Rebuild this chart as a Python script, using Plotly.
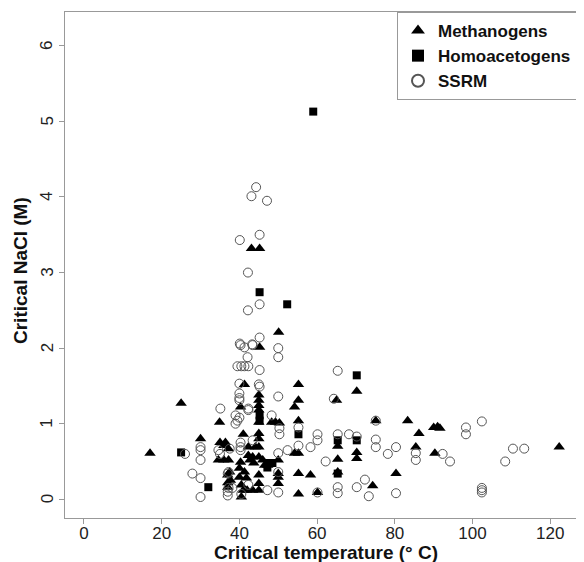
import plotly.graph_objects as go

# Methanogens (triangles)
meth_x = [17, 25, 30, 34.9, 35, 36.4, 36, 34.6, 36, 37.2, 37.2, 37.5, 37.7, 37, 37, 37,
          41.3, 40.3, 41, 40, 41.3, 40, 41.8, 40.5, 41, 40.5,
          42.3, 43.4, 42.7, 40.3, 45, 46, 43.7, 46.5, 47.3,
          42.3, 44.1, 45, 42, 43.4, 45,
          43.1, 45.2, 45.2, 50.1,
          45, 45, 45, 45, 45, 45, 45, 45, 45,
          48.3, 49.3, 50.3, 50, 50, 50, 50,
          55.2, 55.2, 54.2, 55.2, 54.2, 55.2, 55.2, 58.3, 55.2, 60.1,
          65, 65.3, 65.3, 65.3, 70.2, 70.2, 70.2,
          75.1, 74.3, 80.3, 83.3, 86.2, 85.4, 90, 91, 91.6, 90.3, 122.3]
meth_y = [0.61, 1.27, 0.80, 1.02, 0.75, 0.75, 0.71, 0.52, 0.52, 0.52, 0.67, 0.36, 0.25, 0.32, 0.22, 0.16,
          1.52, 1.22, 0.86, 0.41, 0.36, 0.29, 0.28, 0.19, 0.12, 0.03,
          0.58, 0.56, 0.52, 0.49, 0.56, 0.52, 0.48, 0.45, 0.45,
          0.69, 0.69, 0.69, 0.12, 0.12, 0.12,
          3.32, 3.32, 2.01, 2.21,
          1.38, 1.31, 1.24, 1.18, 1.02, 0.87, 0.80, 0.32, 0.21,
          1.02, 1.02, 1.01, 0.52, 0.34, 0.29, 0.21,
          1.52, 1.31, 1.22, 1.04, 0.61, 0.61, 0.34, 0.32, 0.07, 0.09,
          1.31, 0.70, 0.53, 0.36, 1.43, 0.62, 0.54,
          1.04, 0.18, 0.34, 1.04, 0.87, 0.69, 0.95, 0.96, 0.94, 0.61, 0.69]

# Homoacetogens (squares)
homo_x = [25, 32, 45.2, 52.3, 59, 45.2, 45.2, 47.2, 47.5, 48.5, 55.2, 65.3, 65.3, 70.2, 70.2]
homo_y = [0.62, 0.16, 2.74, 2.58, 5.13, 1.11, 1.04, 0.42, 0.48, 0.48, 0.86, 0.78, 0.34, 1.64, 0.78]

# SSRM (open circles)
ssrm_x = [26, 27.9, 30, 30, 30, 30, 30, 35.1, 34.6, 35, 37.5, 37, 37, 37,
          39, 39.5, 39, 40, 40.1, 42.2, 42.2, 45.2, 45.2, 44.3, 43.1, 47.1,
          45.2, 40.1, 41.3, 43.3, 42.1, 50, 50, 40.3, 43.4,
          39.5, 40.5, 41.3, 42.3, 45.2, 40, 45, 45.2, 40, 40, 40, 50,
          42.3, 42.3, 40.3, 40.3, 40.3, 43.4, 48.3, 50.3, 50.3, 50, 50,
          37.2, 37.2, 38.2, 47.2, 42.3, 40.5,
          55.2, 55.2, 58.3, 52.4, 50, 60.1, 60.1, 62.2, 60.1,
          65.3, 64.3, 65.3, 65.3, 65.3, 68.2, 70.2, 70.2, 72.3, 73.3,
          75.1, 75.1, 75.1, 78.2, 80.3, 80.3, 85.4, 85.4, 92.3, 94.2,
          98.3, 98.3, 102.4, 102.4, 102.4, 102.4, 108.4, 110.4, 113.3]
ssrm_y = [0.60, 0.34, 0.28, 0.03, 0.69, 0.65, 0.52, 1.20, 0.65, 0.60, 0.67, 0.34, 0.10, 0.05,
          1.11, 1.04, 1.00, 1.08, 3.43, 3.00, 2.50, 2.58, 3.50, 4.13, 4.01, 3.95,
          2.14, 2.06, 2.01, 2.05, 1.88, 2.00, 1.88, 2.04, 2.04,
          1.76, 1.76, 1.76, 1.76, 1.71, 1.53, 1.52, 1.49, 1.40, 1.34, 1.31, 1.36,
          1.20, 1.18, 0.75, 0.69, 0.65, 0.78, 1.11, 0.94, 0.86, 0.61, 0.36,
          0.36, 0.15, 0.15, 0.12, 0.19, 0.07,
          0.95, 0.71, 0.69, 0.65, 0.09, 0.86, 0.78, 0.50, 0.09,
          1.70, 1.33, 0.86, 0.16, 0.08, 0.86, 0.83, 0.16, 0.26, 0.04,
          1.04, 0.79, 0.69, 0.60, 0.69, 0.08, 0.61, 0.52, 0.60, 0.50,
          0.95, 0.86, 1.03, 0.15, 0.12, 0.09, 0.50, 0.67, 0.67]

x_ticks = [0, 20, 40, 60, 80, 100, 120]
y_ticks = [0, 1, 2, 3, 4, 5, 6]
y_tick_labels = [str(v) for v in y_ticks]

FONT = "Liberation Sans, Arial, sans-serif"

fig = go.Figure()
fig.add_trace(go.Scatter(x=meth_x, y=meth_y, mode="markers", name="Methanogens",
                         marker=dict(symbol="triangle-up", size=10, color="black",
                                     line=dict(width=0))))
fig.add_trace(go.Scatter(x=homo_x, y=homo_y, mode="markers", name="Homoacetogens",
                         marker=dict(symbol="square", size=8, color="black",
                                     line=dict(width=0))))
fig.add_trace(go.Scatter(x=ssrm_x, y=ssrm_y, mode="markers", name="SSRM",
                         marker=dict(symbol="circle-open", size=9, color="#555555",
                                     line=dict(width=1, color="#555555"))))

axis_common = dict(showgrid=False, zeroline=False, showline=True, mirror=True,
                   linecolor="#999999", linewidth=1.2, ticks="outside", ticklen=5,
                   tickcolor="#999999", tickwidth=1.2, automargin=False,
                   tickfont=dict(family=FONT, size=17, color="#222222"))

# y tick labels, rotated parallel to the axis (as in R's default las=0)
ytick_annots = [dict(text=lab, xref="paper", yref="y", x=-0.035, y=v,
                     xanchor="center", yanchor="middle", showarrow=False, textangle=-90,
                     font=dict(family=FONT, size=17, color="#222222"))
                for v, lab in zip(y_ticks, y_tick_labels)]

# The page body has an 8px margin; figure sized so the plot area lands where the reference has it.
fig.update_layout(
    width=576, height=554,
    margin=dict(l=57, r=7, t=4, b=44),
    paper_bgcolor="white", plot_bgcolor="white",
    font=dict(family=FONT, color="#111111"),
    showlegend=True,
    legend=dict(x=1, y=1, xanchor="right", yanchor="top",
                bgcolor="white", bordercolor="#999999", borderwidth=1,
                font=dict(family=FONT, size=17, color="#111111", weight="bold"),
                itemsizing="constant", tracegroupgap=0, itemwidth=30),
    xaxis=dict(range=[-4.88, 126.88], tickvals=x_ticks, ticklabelstandoff=-6, **axis_common),
    yaxis=dict(range=[-0.248, 6.448], tickvals=y_ticks, showticklabels=False, **axis_common),
    annotations=ytick_annots + [
        dict(text="<b>Critical temperature (° C)</b>", xref="paper", yref="paper",
             x=0.51, y=-0.068, xanchor="center", yanchor="middle", showarrow=False,
             font=dict(family=FONT, size=19, color="#111111")),
        dict(text="<b>Critical NaCl (M)</b>", xref="paper", yref="paper",
             x=-0.088, y=0.49, xanchor="center", yanchor="middle", showarrow=False,
             textangle=-90, font=dict(family=FONT, size=19, color="#111111")),
    ],
)

fig.write_html("out.html")
